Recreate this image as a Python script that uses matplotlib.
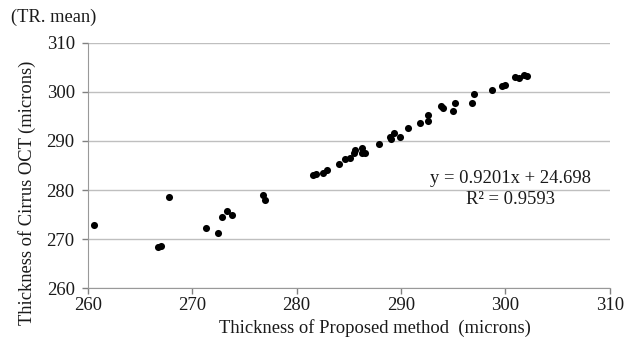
import matplotlib
matplotlib.use("Agg")
import matplotlib.pyplot as plt

# proposed method vs Cirrus OCT thickness (microns)
proposed = [260.6, 266.7, 267.0, 267.75, 271.3, 272.5, 272.8, 273.3, 273.8, 276.8, 277.0,
            281.6, 281.9, 282.5, 282.9, 284.1, 284.6, 285.1, 285.5, 285.6, 286.3, 286.3,
            286.5, 287.9, 288.9, 289.0, 289.3, 289.9, 290.7, 291.8, 292.6, 292.6, 293.8,
            294.0, 295.0, 295.2, 296.8, 297.0, 298.7, 299.7, 300.0, 300.9, 301.3, 301.8, 302.1]
cirrus = [272.8, 268.4, 268.5, 278.5, 272.3, 271.2, 274.6, 275.7, 274.9, 279.0, 278.0,
          283.1, 283.3, 283.5, 284.1, 285.4, 286.3, 286.5, 287.5, 288.2, 287.6, 288.6,
          287.5, 289.3, 290.9, 290.5, 291.6, 290.9, 292.6, 293.7, 294.1, 295.3, 297.1,
          296.7, 296.1, 297.7, 297.7, 299.5, 300.3, 301.3, 301.4, 303.1, 302.9, 303.5, 303.3]

ticks = [260, 270, 280, 290, 300, 310]

plt.rcParams['font.family'] = ['Liberation Serif', 'DejaVu Serif']

fig = plt.figure(figsize=(6.28, 3.43), dpi=100)
ax = fig.add_axes([0.140, 0.160, 0.831, 0.715])

ax.scatter(proposed, cirrus, s=26, color='black', zorder=3, linewidths=0)

ax.set_xlim(260, 310)
ax.set_ylim(260, 310)
ax.set_xticks(ticks)
ax.set_yticks(ticks)
ax.tick_params(labelsize=13.5, colors='#808080', labelcolor='#1a1a1a', length=4.5, width=1)
ax.tick_params(axis='x', pad=2)
ax.tick_params(axis='y', pad=5)
ax.grid(axis='y', color='#bfbfbf', linewidth=1)
ax.set_axisbelow(True)
for s in ['top', 'right']:
    ax.spines[s].set_visible(False)
for s in ['left', 'bottom']:
    ax.spines[s].set_color('#999999')

ax.set_xlabel('Thickness of Proposed method  (microns)', fontsize=13.4, color='#1a1a1a')
ax.set_ylabel('Thickness of Cirrus OCT (microns)', fontsize=13.3, color='#1a1a1a')
ax.xaxis.set_label_coords(0.55, -0.128)
ax.yaxis.set_label_coords(-0.1, 0.39)

ax.text(300.5, 282.3, 'y = 0.9201x + 24.698', fontsize=13.4, ha='center', va='center', color='#1a1a1a')
ax.text(300.5, 278.1, 'R² = 0.9593', fontsize=13.4, ha='center', va='center', color='#1a1a1a')
fig.text(0.018, 0.948, '(TR. mean)', fontsize=13.3, ha='left', va='center', color='#1a1a1a')

fig.savefig('out.png', dpi=100)
